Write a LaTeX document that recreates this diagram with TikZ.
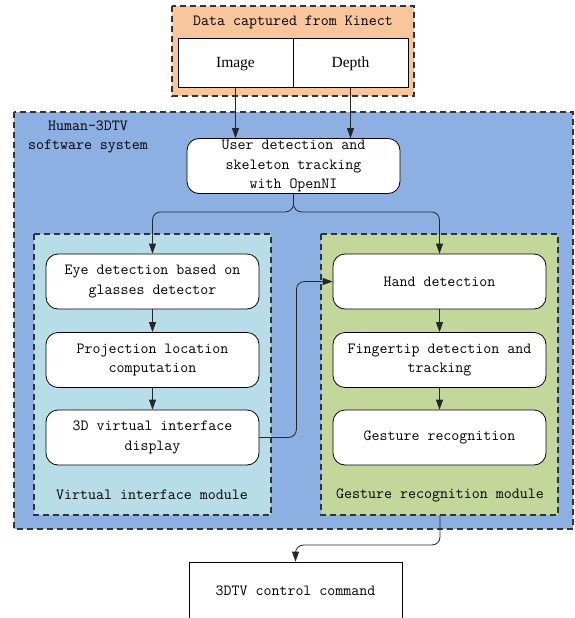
\documentclass[tikz,border=0pt]{standalone}
\usepackage{fontspec}
\setmainfont{Liberation Serif}
\usetikzlibrary{arrows.meta}
\definecolor{kinectfill}{HTML}{F9C59B}
\definecolor{sysfill}{HTML}{8DB0E2}
\definecolor{vifill}{HTML}{B7DDE8}
\definecolor{grfill}{HTML}{C4D79B}
\definecolor{dashgray}{HTML}{333333}
\tikzset{
  txt/.style={font=\ttfamily\fontsize{15.5}{19.5}\selectfont, align=center},
  stepbox/.style={txt, draw=black, fill=white, line width=0.8pt, rounded corners=12pt,
    minimum width=213pt, minimum height=55pt, inner sep=0pt},
  group/.style={draw=dashgray, line width=1.1pt, dash pattern=on 6pt off 4pt},
  inbox/.style={draw=black, fill=white, line width=0.8pt, minimum width=115pt, minimum height=49pt,
    inner sep=0pt, text depth=0pt, font=\fontsize{15.5}{18}\selectfont},
  arr/.style={-{Triangle[length=10pt,width=7pt]}, line width=0.8pt, draw=black!85},
}
\begin{document}
\begin{tikzpicture}[x=1pt,y=-1pt]
\useasboundingbox (0,0) rectangle (575,618);
% groups
\draw[group, fill=kinectfill] (172,6) rectangle (414,96);
\draw[group, fill=sysfill] (14,112) rectangle (573,529);
\draw[group, fill=vifill] (34,234) rectangle (271,515);
\draw[group, fill=grfill] (321,234) rectangle (558,515);
% labels
\node[txt] (kt) at (293,22) {Data captured from Kinect};
\node[txt] (st) at (88,137) {Human-3DTV\\software system};
\node[txt] (vl) at (152,495) {Virtual interface module};
\node[txt] (gl) at (440,495) {Gesture recognition module};
% kinect inputs
\node[inbox] (img) at (235.5,62.5) {Image};
\node[inbox] (dep) at (350.5,62.5) {Depth};
% main boxes
\node[stepbox] (ud) at (293.5,166) {User detection and\\skeleton tracking\\with OpenNI};
\node[stepbox] (eye) at (152.5,281.5) {Eye detection based on\\glasses detector};
\node[stepbox] (proj) at (152.5,360) {Projection location\\computation};
\node[stepbox] (disp) at (152.5,437.5) {3D virtual interface\\display};
\node[stepbox] (hand) at (439.5,281.5) {Hand detection};
\node[stepbox] (fing) at (439.5,360) {Fingertip detection and\\tracking};
\node[stepbox] (gest) at (439.5,437.5) {Gesture recognition};
\node[txt, draw=black, fill=white, line width=0.8pt, minimum width=213pt, minimum height=58pt, inner sep=0pt] (cmd) at (295.5,591) {3DTV control command};
% group anchor for bottom connector
\coordinate (gmb) at (440,515);
% connectors
\draw[arr] (img.south) -- (img.south |- ud.north);
\draw[arr] (dep.south) -- (dep.south |- ud.north);
\draw[arr, rounded corners=8pt] (ud.south) -- ++(0,18) -| (eye.north);
\draw[arr, rounded corners=8pt] (ud.south) -- ++(0,18) -| (hand.north);
\draw[arr] (eye) -- (proj);
\draw[arr] (proj) -- (disp);
\draw[arr] (hand) -- (fing);
\draw[arr] (fing) -- (gest);
\draw[arr, rounded corners=8pt] (disp.east) -- ++(37,0) |- (hand.west);
\draw[arr, rounded corners=8pt] (gmb) -- ++(0,30) -| (cmd.north);
\end{tikzpicture}
\end{document}
